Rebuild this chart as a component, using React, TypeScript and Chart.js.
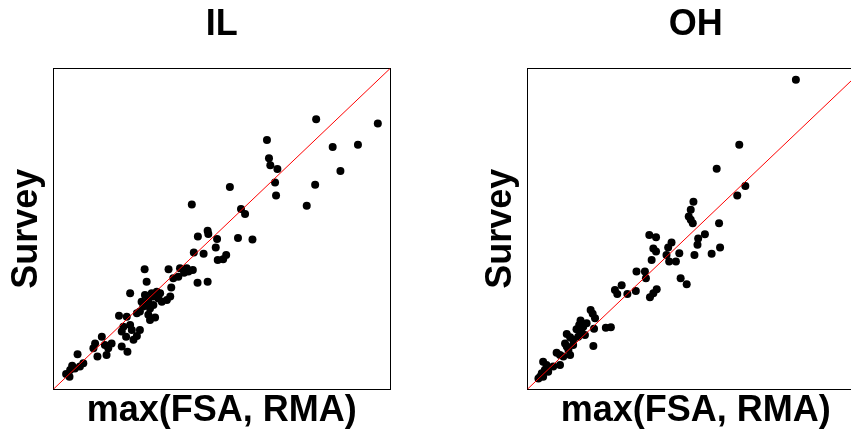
import React, { useEffect, useRef } from "react";
import { Chart, registerables } from "chart.js";

Chart.register(...registerables);

const FONT = "'Liberation Sans', Arial, Helvetica, sans-serif";

// Illinois counties: max(FSA, RMA) vs Survey (relative units)
const ilFsa = [
  78.0, 96.3, 63.4, 82.9, 90.4, 64.0, 64.4, 66.5, 85.2, 65.8, 77.7, 52.4, 66.1, 75.2, 41.1, 55.7,
  56.9, 45.8, 46.0, 42.9, 48.6, 54.8, 59.1, 48.2, 41.7, 44.6, 51.3, 50.4, 48.8, 27.1, 34.2, 37.6,
  38.8, 40.1, 41.4, 37.1, 35.6, 27.7, 42.8, 45.8, 35.0, 22.8, 27.2, 30.7, 29.7, 31.2, 28.2, 26.2,
  34.7, 33.7, 32.2, 29.7, 28.7, 25.7, 24.8, 28.2, 28.7, 30.2, 19.5, 21.8, 20.8, 22.8, 20.3, 23.3,
  21.6, 24.8, 23.8, 14.4, 12.4, 11.9, 17.3, 16.3, 15.8, 13.1, 20.3, 22.0, 7.2, 8.9, 7.9, 5.6,
  5.0, 3.8, 4.8, 26.7, 29.2, 31.7, 39.6, 25.7, 15.3, 6.4, 27.7,
];
const ilSurvey = [
  84.1, 82.8, 77.7, 75.5, 76.2, 72.0, 69.8, 68.6, 68.0, 64.4, 63.7, 63.0, 60.4, 57.2, 57.6, 56.2,
  54.6, 49.4, 48.4, 47.6, 46.8, 47.1, 46.7, 44.2, 42.6, 42.2, 41.8, 40.5, 40.3, 37.4, 37.4, 37.7,
  36.3, 36.7, 37.2, 35.1, 34.6, 33.5, 33.2, 33.5, 31.7, 29.9, 29.4, 30.4, 28.9, 28.3, 27.8, 27.3,
  28.9, 27.8, 27.3, 26.3, 25.2, 24.2, 23.7, 23.2, 21.6, 22.4, 22.9, 22.6, 19.5, 20.0, 18.0, 18.5,
  16.4, 16.6, 15.4, 16.4, 14.3, 12.8, 14.3, 12.8, 10.7, 10.2, 13.3, 11.7, 10.9, 8.1, 7.1, 7.3,
  6.0, 4.8, 3.9, 25.8, 29.9, 29.9, 37.7, 18.5, 13.8, 6.5, 26.8,
];

// Ohio counties: max(FSA, RMA) vs Survey (relative units)
const ohFsa = [
  79.7, 62.9, 56.2, 64.7, 62.3, 49.3, 48.5, 47.9, 48.5, 49.1, 56.9, 52.7, 50.7, 50.5, 49.6, 54.7,
  57.2, 36.2, 38.2, 37.4, 38.2, 36.9, 42.8, 41.8, 41.3, 42.1, 44.1, 45.1, 32.4, 34.9, 35.2, 45.5,
  47.3, 26.0, 28.0, 26.7, 29.7, 32.2, 38.4, 37.4, 36.4, 18.8, 19.4, 20.1, 15.8, 15.4, 14.6, 16.6,
  11.7, 12.7, 13.6, 11.2, 15.1, 17.1, 23.3, 24.8, 19.8, 19.6, 8.7, 9.7, 12.2, 12.7, 10.7, 4.7,
  5.7, 5.2, 4.3, 3.8, 4.7, 6.2, 7.7, 9.7, 13.6, 17.6, 3.3, 11.7, 16.1,
];
const ohSurvey = [
  96.4, 76.2, 68.7, 63.3, 60.4, 58.4, 55.9, 53.8, 52.8, 51.7, 51.7, 48.3, 47.0, 45.0, 41.8, 42.2,
  44.2, 48.1, 47.4, 43.9, 42.9, 40.3, 45.7, 44.2, 41.8, 39.8, 39.8, 42.4, 36.7, 36.7, 34.6, 34.6,
  32.7, 30.9, 32.4, 29.7, 29.7, 30.6, 31.2, 29.9, 28.7, 24.7, 23.5, 22.1, 21.4, 20.0, 18.7, 19.5,
  17.2, 16.2, 15.4, 14.3, 16.4, 16.9, 19.2, 19.3, 18.9, 13.5, 11.4, 10.7, 12.3, 10.7, 10.2, 8.6,
  7.6, 6.0, 5.0, 3.9, 3.9, 5.5, 7.1, 7.6, 13.8, 20.6, 3.4, 13.3, 17.8,
];

const axisMin = 0;
const axisMax = 100;
const xTitle = "max(FSA, RMA)";
const yTitle = "Survey";

const boxPlugin = {
  id: "plotBox",
  beforeDatasetsDraw(chart: any) {
    const { ctx, chartArea } = chart;
    const l = Math.round(chartArea.left) + 0.5;
    const t = Math.round(chartArea.top) + 0.5;
    const r = Math.round(chartArea.right) + 0.5;
    const b = Math.round(chartArea.bottom) + 0.5;
    ctx.save();
    ctx.strokeStyle = "#000";
    ctx.lineWidth = 1;
    ctx.strokeRect(l, t, r - l, b - t);
    ctx.restore();
  },
};

function Panel({ title, xs, ys, left }: { title: string; xs: number[]; ys: number[]; left: number }) {
  const ref = useRef<HTMLCanvasElement | null>(null);
  useEffect(() => {
    if (!ref.current) return;
    const points = xs.map((x, i) => ({ x, y: ys[i] }));
    const chart = new Chart(ref.current, {
      type: "scatter",
      data: {
        datasets: [
          {
            data: [
              { x: axisMin, y: axisMin },
              { x: axisMax, y: axisMax },
            ],
            showLine: true,
            borderColor: "#ff0000",
            borderWidth: 1,
            pointRadius: 0,
            pointHoverRadius: 0,
          },
          {
            data: points,
            pointRadius: 4,
            pointHoverRadius: 4,
            pointBackgroundColor: "#000",
            pointBorderWidth: 0,
            borderWidth: 0,
          },
        ],
      },
      options: {
        responsive: false,
        animation: false,
        events: [],
        layout: { padding: { left: 0, right: 83.7, top: 0, bottom: 0 } },
        plugins: {
          legend: { display: false },
          tooltip: { enabled: false },
          title: {
            display: true,
            text: title,
            color: "#000",
            fullSize: false,
            font: { family: FONT, size: 36, weight: "bold", lineHeight: 1 },
            padding: { top: 7, bottom: 25.3 },
          },
        },
        scales: {
          x: {
            type: "linear",
            min: axisMin,
            max: axisMax,
            grid: { display: false, drawTicks: false, tickLength: 0 },
            border: { display: false },
            ticks: { display: false },
            title: {
              display: true,
              text: xTitle,
              color: "#000",
              font: { family: FONT, size: 36, weight: "bold", lineHeight: 1 },
              padding: { top: 3.7, bottom: 0 },
            },
          },
          y: {
            type: "linear",
            min: axisMin,
            max: axisMax,
            grid: { display: false, drawTicks: false, tickLength: 0 },
            border: { display: false },
            ticks: { display: false },
            title: {
              display: true,
              text: yTitle,
              color: "#000",
              font: { family: FONT, size: 36, weight: "bold", lineHeight: 1 },
              padding: { top: 9.5, bottom: 7.8 },
            },
          },
        },
      },
      plugins: [boxPlugin],
    } as any);
    return () => chart.destroy();
  }, [title, xs, ys]);
  return (
    <canvas
      ref={ref}
      width={474}
      height={429}
      style={{ position: "absolute", left, top: 0, width: 474, height: 429 }}
    />
  );
}

export default function App() {
  return (
    <div
      style={{
        position: "absolute",
        left: 0,
        top: 0,
        width: 851,
        height: 429,
        overflow: "hidden",
        background: "#fff",
      }}
    >
      <Panel title="IL" xs={ilFsa} ys={ilSurvey} left={0} />
      <Panel title="OH" xs={ohFsa} ys={ohSurvey} left={474} />
    </div>
  );
}
